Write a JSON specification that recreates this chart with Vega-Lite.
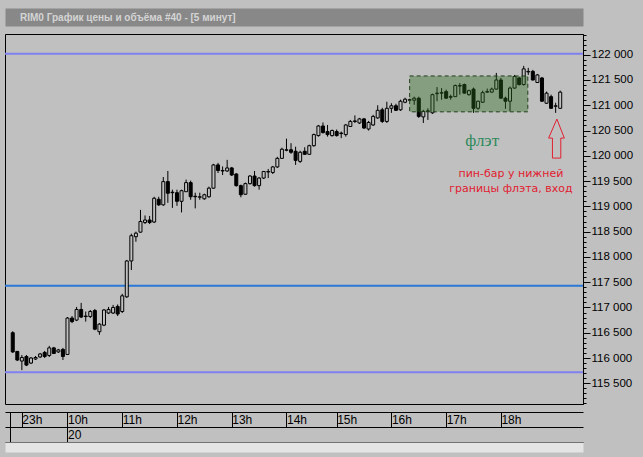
{
  "$schema": "https://vega.github.io/schema/vega-lite/v6.json",
  "width": 578,
  "height": 370,
  "autosize": {"type": "none"},
  "padding": {"left": 5, "top": 34, "right": 60, "bottom": 53},
  "background": "#c0c0c0",
  "title": {"text": "RIM0 График цены и объёма #40 - [5 минут]", "anchor": "start", "frame": "group", "dx": 15, "dy": 10, "font": "Liberation Sans", "fontSize": 10, "fontWeight": "bold", "color": "#d4d4d4"},
  "config": {
    "view": {"stroke": "#000000", "strokeWidth": 1, "fill": "#c0c0c0"},
    "axis": {"labelFont": "Liberation Sans", "labelFontSize": 12, "labelColor": "#000000", "domainColor": "#000000", "tickColor": "#000000", "grid": false}
  },
  "resolve": {"axis": {"x": "independent", "y": "independent"}},
  "datasets": {
    "levels": [
      {"v": 122020, "kind": "outer"},
      {"v": 117430, "kind": "mid"},
      {"v": 115720, "kind": "outer"}
    ],
    "candles": [
      {"i":1,"o":116500,"h":116530,"l":116100,"c":116120},
      {"i":2,"o":116130,"h":116140,"l":115940,"c":115960},
      {"i":3,"o":115940,"h":116060,"l":115760,"c":116010},
      {"i":4,"o":116030,"h":116060,"l":115840,"c":115860},
      {"i":5,"o":115900,"h":116020,"l":115880,"c":116000},
      {"i":6,"o":115980,"h":116040,"l":115960,"c":116010},
      {"i":7,"o":116020,"h":116100,"l":116000,"c":116080},
      {"i":8,"o":116110,"h":116140,"l":116000,"c":116030},
      {"i":9,"o":116050,"h":116240,"l":116020,"c":116200},
      {"i":10,"o":116200,"h":116220,"l":116080,"c":116090},
      {"i":11,"o":116120,"h":116180,"l":116100,"c":116160},
      {"i":12,"o":116170,"h":116200,"l":115960,"c":116030},
      {"i":13,"o":116070,"h":116810,"l":116060,"c":116790},
      {"i":14,"o":116790,"h":116830,"l":116690,"c":116720},
      {"i":15,"o":116750,"h":117010,"l":116730,"c":116960},
      {"i":16,"o":116960,"h":117090,"l":116790,"c":116810},
      {"i":17,"o":116830,"h":116920,"l":116720,"c":116820},
      {"i":18,"o":116820,"h":116950,"l":116790,"c":116920},
      {"i":19,"o":116940,"h":116970,"l":116550,"c":116570},
      {"i":20,"o":116520,"h":116690,"l":116460,"c":116670},
      {"i":21,"o":116650,"h":116970,"l":116630,"c":116950},
      {"i":22,"o":116890,"h":117010,"l":116870,"c":116960},
      {"i":23,"o":116890,"h":117050,"l":116870,"c":117000},
      {"i":24,"o":117020,"h":117060,"l":116830,"c":116870},
      {"i":25,"o":116920,"h":117270,"l":116890,"c":117230},
      {"i":26,"o":117210,"h":117940,"l":117190,"c":117920},
      {"i":27,"o":117920,"h":118460,"l":117740,"c":118420},
      {"i":28,"o":118400,"h":118500,"l":118300,"c":118470},
      {"i":29,"o":118490,"h":118930,"l":118480,"c":118700},
      {"i":30,"o":118680,"h":118820,"l":118650,"c":118730},
      {"i":31,"o":118730,"h":118810,"l":118650,"c":118680},
      {"i":32,"o":118690,"h":119190,"l":118670,"c":119160},
      {"i":33,"o":119140,"h":119190,"l":119010,"c":119030},
      {"i":34,"o":119030,"h":119580,"l":119010,"c":119490},
      {"i":35,"o":119490,"h":119700,"l":119070,"c":119260},
      {"i":36,"o":119280,"h":119330,"l":118970,"c":119270},
      {"i":37,"o":119270,"h":119330,"l":119010,"c":119100},
      {"i":38,"o":119100,"h":119330,"l":118880,"c":119310},
      {"i":39,"o":119290,"h":119530,"l":119290,"c":119470},
      {"i":40,"o":119470,"h":119510,"l":119130,"c":119190},
      {"i":41,"o":119200,"h":119270,"l":118960,"c":119190},
      {"i":42,"o":119180,"h":119270,"l":119130,"c":119190},
      {"i":43,"o":119150,"h":119250,"l":119130,"c":119230},
      {"i":44,"o":119190,"h":119390,"l":119170,"c":119360},
      {"i":45,"o":119360,"h":119840,"l":119350,"c":119820},
      {"i":46,"o":119820,"h":119860,"l":119660,"c":119710},
      {"i":47,"o":119700,"h":119790,"l":119620,"c":119710},
      {"i":48,"o":119700,"h":119920,"l":119680,"c":119760},
      {"i":49,"o":119760,"h":119780,"l":119600,"c":119620},
      {"i":50,"o":119640,"h":119660,"l":119390,"c":119410},
      {"i":51,"o":119410,"h":119430,"l":119180,"c":119230},
      {"i":52,"o":119240,"h":119470,"l":119230,"c":119450},
      {"i":53,"o":119450,"h":119620,"l":119430,"c":119600},
      {"i":54,"o":119600,"h":119700,"l":119390,"c":119410},
      {"i":55,"o":119410,"h":119580,"l":119330,"c":119560},
      {"i":56,"o":119560,"h":119700,"l":119540,"c":119690},
      {"i":57,"o":119680,"h":119740,"l":119560,"c":119690},
      {"i":58,"o":119670,"h":119800,"l":119640,"c":119780},
      {"i":59,"o":119780,"h":119980,"l":119760,"c":119950},
      {"i":60,"o":119950,"h":120160,"l":119940,"c":120130},
      {"i":61,"o":120110,"h":120340,"l":120090,"c":120120},
      {"i":62,"o":120120,"h":120250,"l":120040,"c":120070},
      {"i":63,"o":120090,"h":120180,"l":119820,"c":119910},
      {"i":64,"o":119890,"h":120100,"l":119860,"c":120070},
      {"i":65,"o":120090,"h":120170,"l":120020,"c":120030},
      {"i":66,"o":120030,"h":120220,"l":120020,"c":120200},
      {"i":67,"o":120200,"h":120440,"l":120180,"c":120420},
      {"i":68,"o":120400,"h":120610,"l":120380,"c":120590},
      {"i":69,"o":120590,"h":120660,"l":120440,"c":120460},
      {"i":70,"o":120480,"h":120610,"l":120380,"c":120420},
      {"i":71,"o":120400,"h":120520,"l":120380,"c":120500},
      {"i":72,"o":120480,"h":120520,"l":120380,"c":120400},
      {"i":73,"o":120450,"h":120480,"l":120350,"c":120440},
      {"i":74,"o":120420,"h":120630,"l":120380,"c":120610},
      {"i":75,"o":120580,"h":120710,"l":120570,"c":120680},
      {"i":76,"o":120690,"h":120800,"l":120650,"c":120680},
      {"i":77,"o":120650,"h":120750,"l":120630,"c":120730},
      {"i":78,"o":120730,"h":120750,"l":120530,"c":120550},
      {"i":79,"o":120530,"h":120690,"l":120500,"c":120660},
      {"i":80,"o":120610,"h":120810,"l":120590,"c":120780},
      {"i":81,"o":120750,"h":121000,"l":120730,"c":120900},
      {"i":82,"o":120910,"h":120950,"l":120650,"c":120680},
      {"i":83,"o":120680,"h":121070,"l":120650,"c":120940},
      {"i":84,"o":120940,"h":121040,"l":120850,"c":120990},
      {"i":85,"o":120990,"h":121030,"l":120890,"c":120900},
      {"i":86,"o":120910,"h":121110,"l":120890,"c":121080},
      {"i":87,"o":121060,"h":121150,"l":121040,"c":121120},
      {"i":88,"o":121100,"h":121130,"l":121090,"c":121110},
      {"i":89,"o":121100,"h":121170,"l":121010,"c":121140},
      {"i":90,"o":121140,"h":121170,"l":120750,"c":120780},
      {"i":91,"o":120770,"h":120910,"l":120650,"c":120880},
      {"i":92,"o":120880,"h":120940,"l":120710,"c":120890},
      {"i":93,"o":120850,"h":121230,"l":120830,"c":121210},
      {"i":94,"o":121230,"h":121360,"l":121080,"c":121240},
      {"i":95,"o":121240,"h":121340,"l":121110,"c":121250},
      {"i":96,"o":121270,"h":121310,"l":121130,"c":121140},
      {"i":97,"o":121170,"h":121210,"l":121110,"c":121160},
      {"i":98,"o":121170,"h":121410,"l":121170,"c":121390},
      {"i":99,"o":121380,"h":121440,"l":121210,"c":121390},
      {"i":100,"o":121410,"h":121430,"l":121230,"c":121240},
      {"i":101,"o":121210,"h":121310,"l":121190,"c":121290},
      {"i":102,"o":121320,"h":121350,"l":120850,"c":120940},
      {"i":103,"o":120940,"h":121090,"l":120910,"c":121080},
      {"i":104,"o":121060,"h":121290,"l":121050,"c":121250},
      {"i":105,"o":121260,"h":121330,"l":121250,"c":121270},
      {"i":106,"o":121260,"h":121350,"l":121250,"c":121320},
      {"i":107,"o":121320,"h":121640,"l":121310,"c":121500},
      {"i":108,"o":121500,"h":121540,"l":121130,"c":121140},
      {"i":109,"o":121140,"h":121170,"l":120930,"c":121080},
      {"i":110,"o":121080,"h":121370,"l":120880,"c":121340},
      {"i":111,"o":121340,"h":121600,"l":121330,"c":121570},
      {"i":112,"o":121540,"h":121560,"l":121390,"c":121410},
      {"i":113,"o":121410,"h":121780,"l":121390,"c":121720},
      {"i":114,"o":121660,"h":121740,"l":121600,"c":121670},
      {"i":115,"o":121670,"h":121700,"l":121490,"c":121500},
      {"i":116,"o":121450,"h":121620,"l":121450,"c":121600},
      {"i":117,"o":121540,"h":121560,"l":121070,"c":121080},
      {"i":118,"o":121040,"h":121270,"l":121030,"c":121240},
      {"i":119,"o":121170,"h":121210,"l":120930,"c":120940},
      {"i":120,"o":120980,"h":121050,"l":120850,"c":120990},
      {"i":121,"o":120940,"h":121290,"l":120930,"c":121260}
    ],
    "flat": [{"x1": 88, "x2": 113.9, "y1": 121580, "y2": 120870}],
    "flatLabel": [{"i": 103.9, "v": 120300, "t": "флэт"}],
    "note": [
      {"i": 110.2, "v": 119640, "t": "пин-бар у нижней"},
      {"i": 110.2, "v": 119340, "t": "границы флэта, вход"}
    ],
    "arrow": [
      {"k": 1, "i": 120.27, "v": 120727},
      {"k": 2, "i": 121.9, "v": 120351},
      {"k": 3, "i": 121.13, "v": 120351},
      {"k": 4, "i": 121.13, "v": 119955},
      {"k": 5, "i": 119.3, "v": 119955},
      {"k": 6, "i": 119.3, "v": 120351},
      {"k": 7, "i": 118.46, "v": 120351},
      {"k": 8, "i": 120.27, "v": 120727}
    ]
  },
  "layer": [
    {
      "data": {"name": "levels"},
      "mark": {"type": "rule", "strokeWidth": 2},
      "encoding": {
        "y": {"field": "v", "type": "quantitative", "scale": {"domain": [115090, 122410], "nice": false, "zero": false},
          "axis": {"orient": "right", "title": null, "values": [115500,116000,116500,117000,117500,118000,118500,119000,119500,120000,120500,121000,121500,122000], "format": ",d", "labelExpr": "replace(datum.label, ',', ' ')", "tickSize": 7, "labelPadding": 1, "labelFontSize": 11.5, "domain": true, "grid": false, "labelOverlap": false, "labelBound": false, "labelFlush": false}},
        "color": {"field": "kind", "type": "nominal", "scale": {"domain": ["outer", "mid"], "range": ["#8080ee", "#2a78d6"]}, "legend": null}
      }
    },
    {
      "data": {"name": "candles"},
      "mark": {"type": "rule", "color": "#000000", "strokeWidth": 1},
      "encoding": {
        "x": {"field": "i", "type": "quantitative", "scale": {"domain": [0.4, 124.9], "nice": false, "zero": false},
          "axis": {"orient": "bottom", "offset": 8, "title": null, "values": [0.4, 3, 13, 25, 37, 49, 61, 72, 84, 96, 108],
            "labelExpr": "datum.value == 3 ? '23h' : datum.value == 13 ? '10h' : datum.value == 25 ? '11h' : datum.value == 37 ? '12h' : datum.value == 49 ? '13h' : datum.value == 61 ? '14h' : datum.value == 72 ? '15h' : datum.value == 84 ? '16h' : datum.value == 96 ? '17h' : datum.value == 108 ? '18h' : ''",
            "tickSize": 15, "labelPadding": -13, "labelAlign": "left", "labelBaseline": "top", "labelDx": 3, "labelFlush": false, "labelOverlap": false, "labelBound": false, "domain": true, "grid": false}},
        "y": {"field": "l", "type": "quantitative", "scale": {"domain": [115090, 122410], "nice": false, "zero": false},
          "axis": {"orient": "right", "title": null, "labels": false, "domain": false, "grid": false, "tickSize": 3,
            "values": [115100,115200,115300,115400,115500,115600,115700,115800,115900,116000,116100,116200,116300,116400,116500,116600,116700,116800,116900,117000,117100,117200,117300,117400,117500,117600,117700,117800,117900,118000,118100,118200,118300,118400,118500,118600,118700,118800,118900,119000,119100,119200,119300,119400,119500,119600,119700,119800,119900,120000,120100,120200,120300,120400,120500,120600,120700,120800,120900,121000,121100,121200,121300,121400,121500,121600,121700,121800,121900,122000,122100,122200,122300,122400]}},
        "y2": {"field": "h"}
      }
    },
    {
      "data": {"name": "candles"},
      "mark": {"type": "bar", "size": 3, "stroke": "#000000", "strokeWidth": 1},
      "encoding": {
        "x": {"field": "i", "type": "quantitative", "scale": {"domain": [0.4, 124.9], "nice": false, "zero": false},
          "axis": {"orient": "bottom", "offset": 23, "title": null, "values": [0.4, 13], "labelExpr": "datum.value == 13 ? '20' : ''",
            "tickSize": 15, "labelPadding": -13, "labelAlign": "left", "labelBaseline": "top", "labelDx": 3, "labelFlush": false, "labelOverlap": false, "labelBound": false, "domain": true, "grid": false}},
        "y": {"field": "o", "type": "quantitative", "scale": {"domain": [115090, 122410], "nice": false, "zero": false}, "axis": null},
        "y2": {"field": "c"},
        "fill": {"condition": {"test": "datum.c < datum.o", "value": "#000000"}, "value": "#c0c0c0"}
      }
    },
    {
      "data": {"name": "flat"},
      "mark": {"type": "rect", "fill": "#2e6b1e", "fillOpacity": 0.4, "stroke": "#1f3f1a", "strokeWidth": 1, "strokeDash": [4, 3]},
      "encoding": {
        "x": {"field": "x1", "type": "quantitative", "scale": {"domain": [0.4, 124.9], "nice": false, "zero": false},
          "axis": {"orient": "bottom", "offset": 38, "title": null, "ticks": false, "labels": false, "domain": true, "grid": false}},
        "x2": {"field": "x2"},
        "y": {"field": "y1", "type": "quantitative", "scale": {"domain": [115090, 122410], "nice": false, "zero": false}, "axis": null},
        "y2": {"field": "y2"}
      }
    },
    {
      "data": {"name": "flatLabel"},
      "mark": {"type": "text", "font": "Liberation Serif", "fontSize": 17, "color": "#2f8a5c", "align": "center", "baseline": "middle"},
      "encoding": {
        "x": {"field": "i", "type": "quantitative", "scale": {"domain": [0.4, 124.9], "nice": false, "zero": false},
          "axis": {"orient": "top", "offset": 17, "title": null, "ticks": false, "labels": false, "domain": true, "domainWidth": 18, "domainColor": "#888888", "grid": false}},
        "y": {"field": "v", "type": "quantitative", "scale": {"domain": [115090, 122410], "nice": false, "zero": false}, "axis": null},
        "text": {"field": "t"}
      }
    },
    {
      "data": {"name": "note"},
      "mark": {"type": "text", "font": "DejaVu Sans", "fontSize": 11, "color": "#e02030", "align": "center", "baseline": "middle"},
      "encoding": {
        "x": {"field": "i", "type": "quantitative", "scale": {"domain": [0.4, 124.9], "nice": false, "zero": false},
          "axis": {"orient": "bottom", "offset": 43, "title": null, "ticks": false, "labels": false, "domain": true, "domainWidth": 10, "domainColor": "#e4e4e4", "grid": false}},
        "y": {"field": "v", "type": "quantitative", "scale": {"domain": [115090, 122410], "nice": false, "zero": false}, "axis": null},
        "text": {"field": "t"}
      }
    },
    {
      "data": {"name": "arrow"},
      "mark": {"type": "line", "color": "#e02030", "strokeWidth": 1},
      "encoding": {
        "x": {"field": "i", "type": "quantitative", "scale": {"domain": [0.4, 124.9], "nice": false, "zero": false}, "axis": null},
        "y": {"field": "v", "type": "quantitative", "scale": {"domain": [115090, 122410], "nice": false, "zero": false}, "axis": null},
        "order": {"field": "k", "type": "quantitative"}
      }
    }
  ]
}
